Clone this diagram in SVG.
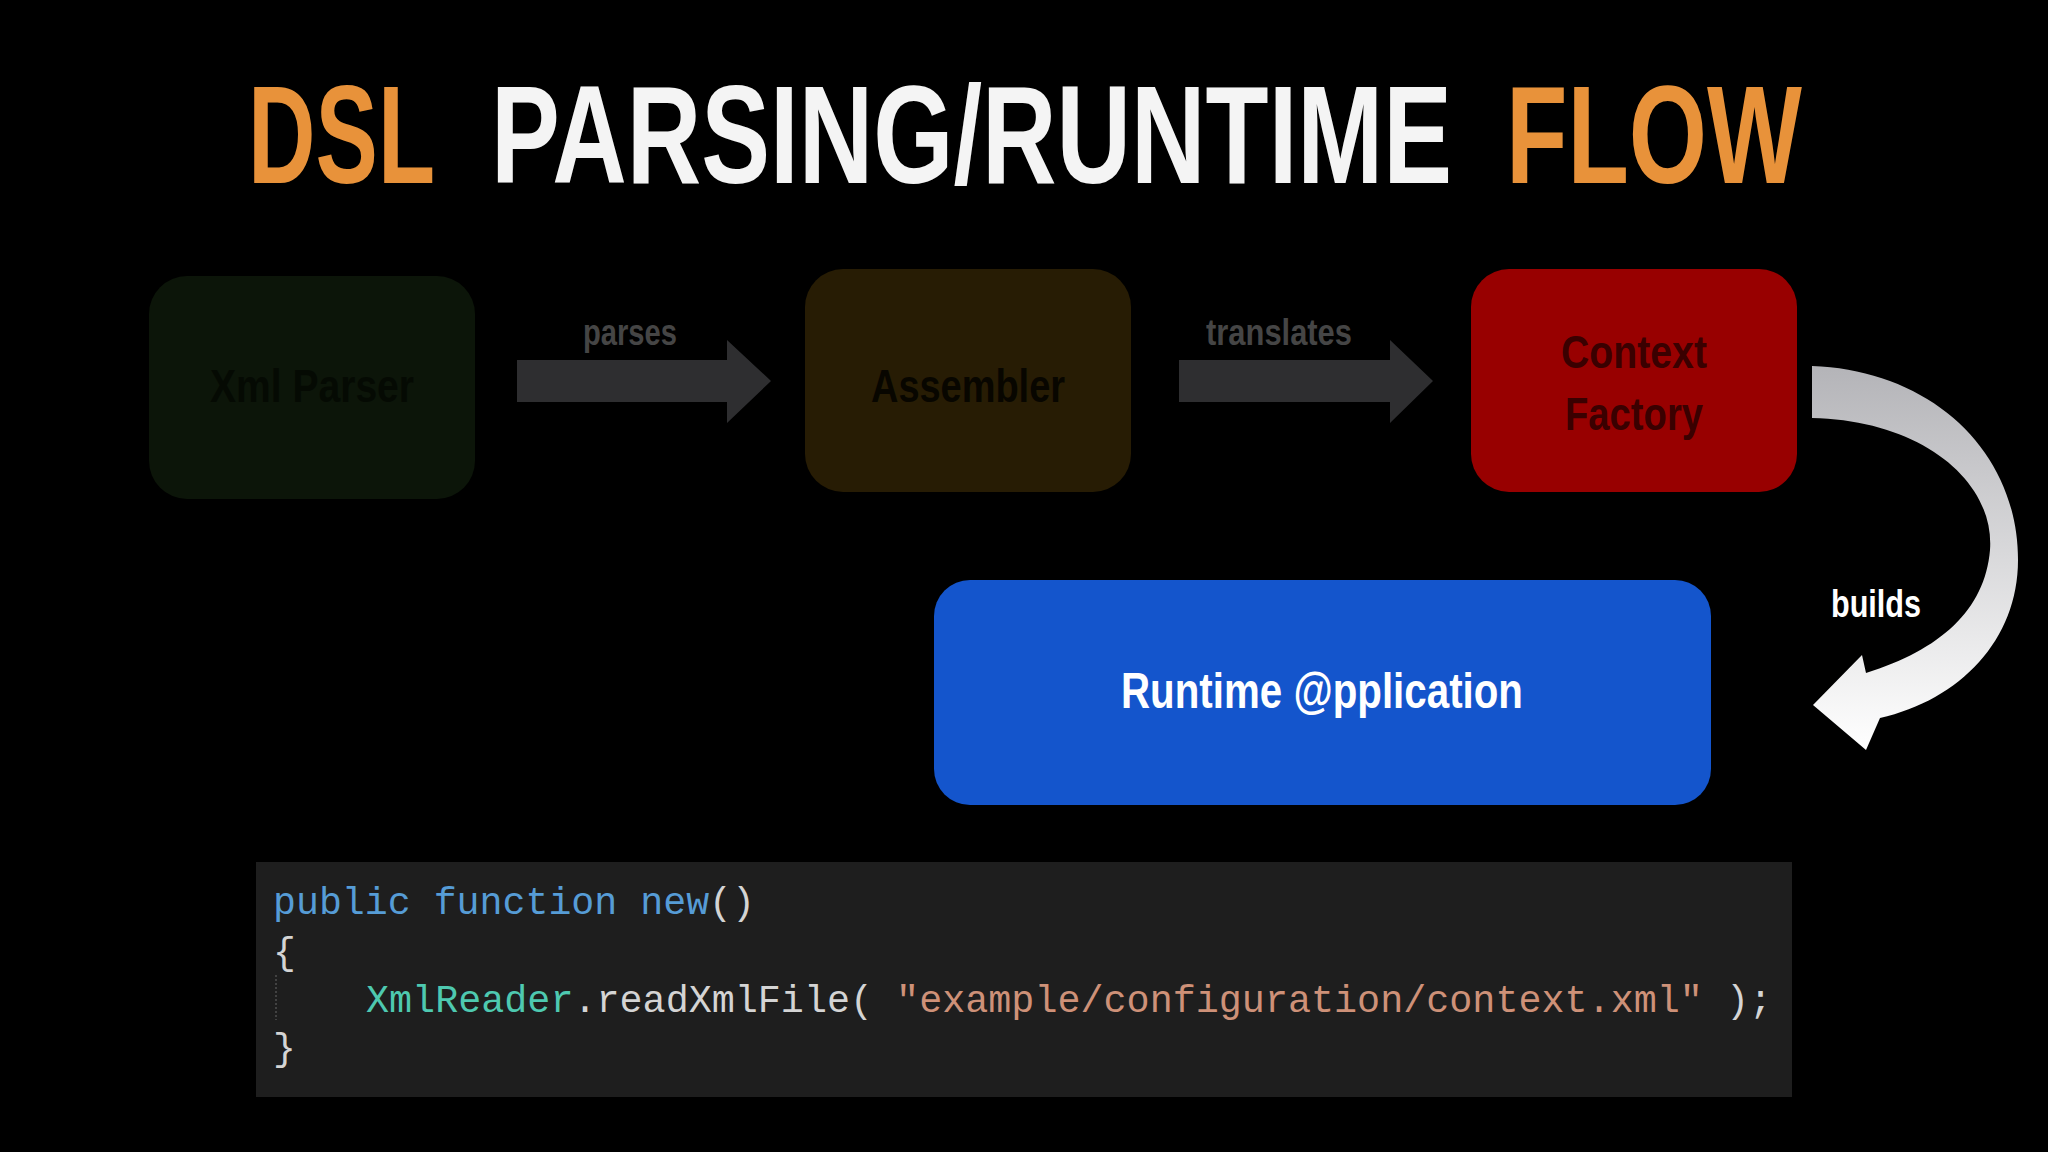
<svg xmlns="http://www.w3.org/2000/svg" width="2048" height="1152" viewBox="0 0 2048 1152">
<defs>
<style>
.t{font-family:"Liberation Sans Narrow","Liberation Sans",sans-serif;font-weight:bold}
.c{font-family:"Liberation Mono",monospace;font-size:38px}
</style>
<linearGradient id="g" x1="0" y1="0" x2="0" y2="1"><stop offset="0" stop-color="#b4b4b8"/><stop offset="1" stop-color="#ffffff"/></linearGradient>
</defs>
<rect width="2048" height="1152" fill="#000"/>
<g id="title">
<text class="t" transform="translate(248 183) scale(0.668 1)" font-size="140" fill="#e8923a">DSL</text>
<text class="t" transform="translate(491 183) scale(0.737 1)" font-size="140" fill="#f4f4f4">PARSING/RUNTIME</text>
<text class="t" transform="translate(1506 183) scale(0.718 1)" font-size="140" fill="#e8923a">FLOW</text>
</g>
<g id="xml-parser"><rect x="149" y="276" width="326" height="223" rx="38" fill="#0c1509"/><text class="t" x="312" y="402" font-size="46" fill="#050a03" text-anchor="middle" textLength="204" lengthAdjust="spacingAndGlyphs">Xml Parser</text></g>
<g id="assembler"><rect x="805" y="269" width="326" height="223" rx="38" fill="#271c04"/><text class="t" x="968" y="402" font-size="46" fill="#080600" text-anchor="middle" textLength="194" lengthAdjust="spacingAndGlyphs">Assembler</text></g>
<g id="context-factory"><rect x="1471" y="269" width="326" height="223" rx="38" fill="#980000"/><text class="t" x="1634" y="368" font-size="46" fill="#3a0000" text-anchor="middle" textLength="146" lengthAdjust="spacingAndGlyphs">Context</text><text class="t" x="1634" y="430" font-size="46" fill="#3a0000" text-anchor="middle" textLength="138" lengthAdjust="spacingAndGlyphs">Factory</text></g>
<g id="runtime"><rect x="934" y="580" width="777" height="225" rx="36" fill="#1455cc"/><text class="t" x="1322" y="708" font-size="50" fill="#fff" text-anchor="middle" textLength="402" lengthAdjust="spacingAndGlyphs">Runtime @pplication</text></g>
<g id="code"><rect x="256" y="862" width="1536" height="235" fill="#1e1e1e"/>
<text class="c" x="273" y="914" textLength="482" lengthAdjust="spacingAndGlyphs"><tspan fill="#569cd6">public function new</tspan><tspan fill="#d4d4d4">()</tspan></text>
<text class="c" x="273" y="964" fill="#d4d4d4">{</text>
<line x1="276" y1="975" x2="276" y2="1020" stroke="#666" stroke-dasharray="2 2"/>
<text class="c" x="366" y="1012" textLength="1406" lengthAdjust="spacingAndGlyphs"><tspan fill="#4ec9b0">XmlReader</tspan><tspan fill="#d4d4d4">.readXmlFile( </tspan><tspan fill="#ce9178">"example/configuration/context.xml"</tspan><tspan fill="#d4d4d4"> );</tspan></text>
<text class="c" x="273" y="1060" fill="#d4d4d4">}</text></g>
<g id="connectors">
<path d="M517 360H727V340L771 381L727 423V402H517Z" fill="#2e2e30"/>
<text class="t" x="630" y="345" font-size="36" fill="#454545" text-anchor="middle" textLength="94" lengthAdjust="spacingAndGlyphs">parses</text>
<path d="M1179 360H1390V340L1433 381L1390 423V402H1179Z" fill="#2e2e30"/>
<text class="t" x="1279" y="345" font-size="36" fill="#454545" text-anchor="middle" textLength="146" lengthAdjust="spacingAndGlyphs">translates</text>
<path d="M1812 366C1930 370 2018 450 2018 560C2018 640 1960 700 1880 718L1866 750L1813 705L1862 655L1866 673C1940 650 1985 610 1990 550C1995 480 1920 420 1812 418Z" fill="url(#g)"/>
<text class="t" x="1876" y="617" font-size="38" fill="#fff" text-anchor="middle" textLength="90" lengthAdjust="spacingAndGlyphs">builds</text>
</g>
</svg>
